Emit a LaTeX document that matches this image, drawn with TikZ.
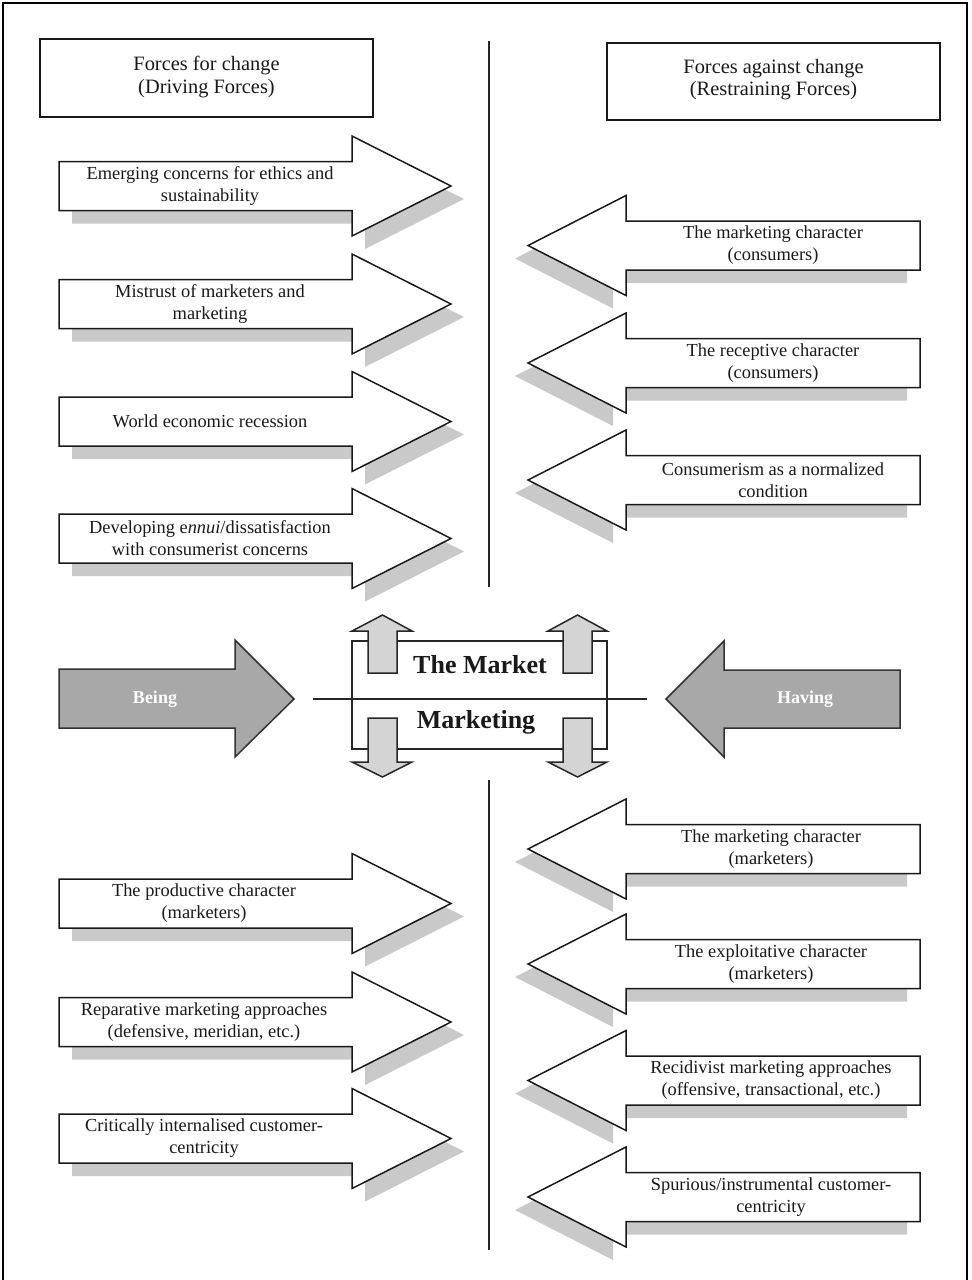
\documentclass[tikz,border=0pt]{standalone}
\usepackage{fontspec}
\setmainfont{Liberation Serif}
\newcommand{\DrawRArrow}[4]{%
  \begin{scope}[xshift=6.5pt,yshift=-6.5pt]
    \fill[shadowfill] (59,#2-24.5) -- (352,#2-24.5) -- (352,#2-50) -- (451,#2) -- (352,#2+50) -- (352,#2+24.5) -- (59,#2+24.5) -- cycle;
  \end{scope}
  \filldraw[arrowbox] (59,#2-24.5) -- (352,#2-24.5) -- (352,#2-50) -- (451,#2) -- (352,#2+50) -- (352,#2+24.5) -- (59,#2+24.5) -- cycle;
  \node[lbl] (#1) at (#3,#2) {#4};
}
\newcommand{\DrawLArrow}[4]{%
  \begin{scope}[xshift=-6.5pt,yshift=-6.5pt]
    \fill[shadowfill] (920,#2-24.5) -- (626,#2-24.5) -- (626,#2-50) -- (528,#2) -- (626,#2+50) -- (626,#2+24.5) -- (920,#2+24.5) -- cycle;
  \end{scope}
  \filldraw[arrowbox] (920,#2-24.5) -- (626,#2-24.5) -- (626,#2-50) -- (528,#2) -- (626,#2+50) -- (626,#2+24.5) -- (920,#2+24.5) -- cycle;
  \node[lbl] (#1) at (#3,#2) {#4};
}
\begin{document}
\begin{tikzpicture}[x=0.5pt,y=-0.5pt,
  frameline/.style={draw=black, line width=1.3pt},
  headbox/.style={draw=black!90, line width=1.4pt, fill=white},
  arrowbox/.style={draw=black!90, line width=0.75pt, fill=white, line join=miter},
  shadowfill/.style={fill=black!21},
  bigarrow/.style={draw=black!80, line width=0.75pt, fill=black!34},
  smallarrow/.style={draw=black!85, line width=0.75pt, fill=black!17},
  lbl/.style={align=center, font=\fontsize{9.2}{11}\selectfont, inner sep=0pt, text=black!90},
  headlbl/.style={align=center, font=\fontsize{10.2}{11.2}\selectfont, inner sep=0pt, text=black!90},
  boldlbl/.style={font=\fontsize{13}{15}\selectfont\bfseries, inner sep=0pt, text=black!90},
  whitelbl/.style={font=\fontsize{9}{11}\selectfont\bfseries, text=white, inner sep=0pt},
  divider/.style={draw=black!85, line width=0.9pt},
  centerbox/.style={draw=black!85, line width=0.75pt},
]
\useasboundingbox (0,0) rectangle (971,1280);
\fill[white] (0,0) rectangle (971,1280);
% frame
\draw[frameline] (3,1290) -- (3,3) -- (967,3) -- (967,1290);

% headers
\node[headbox, minimum width=166.5pt, minimum height=39pt, inner sep=0pt] (hdrL) at (206.5,78) {};
\node[headlbl] (hdrLt) at (206.5,77) {Forces for change\\(Driving Forces)};
\node[headbox, minimum width=166.5pt, minimum height=38.5pt, inner sep=0pt] (hdrR) at (773.5,81.5) {};
\node[headlbl] (hdrRt) at (773.5,79.5) {Forces against change\\(Restraining Forces)};

% dividers
\coordinate (vt1) at (489,41);
\coordinate (vb1) at (489,587);
\coordinate (vt2) at (489,780);
\coordinate (vb2) at (489,1250);
\draw[divider] (vt1) -- (vb1);
\draw[divider] (vt2) -- (vb2);

% driving forces (top)
\DrawRArrow{d1}{186}{210}{Emerging concerns for ethics and\\sustainability}
\DrawRArrow{d2}{304}{210}{Mistrust of marketers and\\marketing}
\DrawRArrow{d3}{421.5}{210}{World economic recession}
\DrawRArrow{d4}{538.5}{210}{Developing e\textit{nnui}/dissatisfaction\\with consumerist concerns}

% restraining forces (top)
\DrawLArrow{r1}{245.5}{773}{The marketing character\\(consumers)}
\DrawLArrow{r2}{363}{773}{The receptive character\\(consumers)}
\DrawLArrow{r3}{480}{773}{Consumerism as a normalized\\condition}

% driving forces (bottom)
\DrawRArrow{d5}{903.5}{204}{The productive character\\(marketers)}
\DrawRArrow{d6}{1022}{204}{Reparative marketing approaches\\(defensive, meridian, etc.)}
\DrawRArrow{d7}{1138.5}{204}{Critically internalised customer-\\centricity}

% restraining forces (bottom)
\DrawLArrow{r4}{849}{771}{The marketing character\\(marketers)}
\DrawLArrow{r5}{964}{771}{The exploitative character\\(marketers)}
\DrawLArrow{r6}{1080.5}{771}{Recidivist marketing approaches\\(offensive, transactional, etc.)}
\DrawLArrow{r7}{1197}{771}{Spurious/instrumental customer-\\centricity}

% big arrows
\filldraw[bigarrow] (59,669) -- (235,669) -- (235,640) -- (294,699) -- (235,757) -- (235,728) -- (59,728) -- cycle;
\node[whitelbl] (being) at (155,699) {Being};
\filldraw[bigarrow] (900,670) -- (724,670) -- (724,641) -- (666,699) -- (724,757) -- (724,728) -- (900,728) -- cycle;
\node[whitelbl] (having) at (805,699) {Having};

% centre box
\draw[centerbox] (352,641) rectangle (607,749);
\coordinate (hl) at (313,699);
\coordinate (hr) at (647,699);
\draw[centerbox] (hl) -- (hr);

% small up arrows
\filldraw[smallarrow] (368,673) -- (368,631) -- (352,631) -- (382.5,615) -- (412,631) -- (397,631) -- (397,673) -- cycle;
\filldraw[smallarrow] (563,673) -- (563,631) -- (548,631) -- (577.5,615) -- (607,631) -- (592,631) -- (592,673) -- cycle;
% small down arrows
\filldraw[smallarrow] (368,718) -- (368,762) -- (352,762) -- (382.5,777) -- (412,762) -- (397,762) -- (397,718) -- cycle;
\filldraw[smallarrow] (563,718) -- (563,762) -- (548,762) -- (577.5,777) -- (607,762) -- (592,762) -- (592,718) -- cycle;

\node[boldlbl] (market) at (480,665) {The Market};
\node[boldlbl] (marketing) at (476,722) {Marketing};
\end{tikzpicture}
\end{document}
